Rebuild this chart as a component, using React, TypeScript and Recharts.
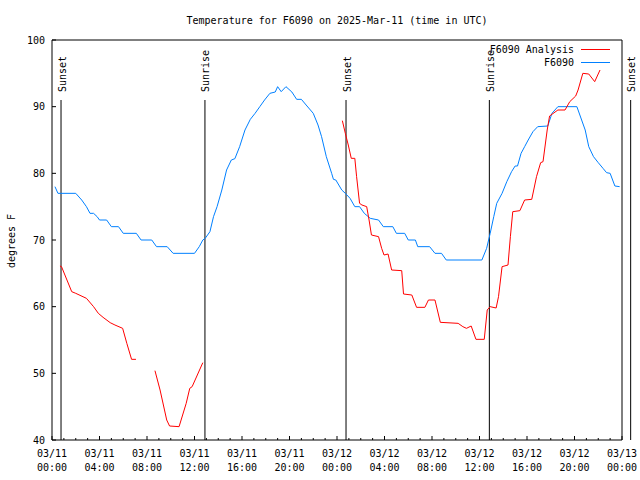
import * as React from "react";
import {
  LineChart,
  Line,
  XAxis,
  YAxis,
  ReferenceLine,
  ReferenceArea,
} from "recharts";

// observed temperature (F6090), hours since 03/11 00:00 UTC
const obsHours = [
  0.25, 0.5, 2.0, 2.5, 2.9, 3.2, 3.5, 3.8, 4.0, 4.6, 5.0, 5.6, 6.0, 7.1, 7.5,
  8.4, 8.8, 9.7, 10.2, 12.0, 12.4, 12.7, 12.9, 13.3, 13.6, 13.9, 14.3, 14.7,
  15.1, 15.4, 15.8, 16.25, 16.7, 17.1, 17.5, 17.9, 18.35, 18.8, 19.0, 19.3,
  19.7, 20.2, 20.6, 21.0, 21.4, 22.0, 22.4, 22.7, 23.1, 23.55, 23.7, 23.9,
  24.4, 24.7, 25.1, 25.5, 25.9, 26.3, 26.8, 27.5, 27.9, 28.7, 29.0, 29.7,
  30.0, 30.6, 30.8, 31.8, 32.25, 32.8, 33.2, 36.2, 36.6, 36.9, 37.2, 37.45,
  37.9, 38.3, 38.7, 39.0, 39.2, 39.5, 39.8, 40.1, 40.5, 40.9, 41.75, 42.1,
  42.6, 44.2, 44.6, 44.9, 45.2, 45.6, 46.0, 46.4, 46.7, 47.0, 47.4, 47.8,
];
const obsTemps = [
  78, 77, 77, 76, 75, 74, 74, 73.5, 73, 73, 72, 72, 71, 71, 70, 70, 69, 69,
  68, 68, 69, 70, 70.25, 71.25, 73.5, 75, 77.5, 80.5, 82, 82.2, 84, 86.5,
  88.1, 89, 90, 91, 92, 92.2, 93, 92.25, 93, 92.2, 91.1, 91.1, 90.25, 89,
  87.25, 85.5, 82.5, 80, 79.1, 79, 77.5, 77, 76.25, 75, 75, 74, 73.25, 73,
  72, 72, 71, 71, 70, 70, 69, 69, 68, 68, 67, 67, 68.75, 71, 73.5, 75.5, 77,
  78.75, 80.25, 81.1, 81.1, 83, 84, 85, 86.25, 87, 87.1, 89, 90, 90, 88,
  86.5, 84, 82.5, 81.6, 80.75, 80.1, 80, 78.1, 78,
];

// analysis temperature (F6090 Analysis), null = missing
const anaHours = [
  0.67, 0.8, 1.66, 2.0, 2.9, 3.5, 3.9, 4.3, 4.9, 5.3, 5.95, 6.3, 6.7, 7.07,
  7.8, 8.67, 9.1, 9.66, 9.9, 10.7, 11.3, 11.6, 11.8, 12.7, 18.0, 24.45, 24.7,
  24.95, 25.2, 25.5, 25.65, 25.9, 26.1, 26.5, 26.7, 26.9, 27.5, 27.76, 27.96,
  28.3, 28.6, 29.45, 29.6, 30.3, 30.7, 31.4, 31.7, 32.25, 32.7, 34.2, 34.6,
  34.9, 35.3, 35.7, 36.4, 36.65, 36.9, 37.4, 37.6, 37.9, 38.4, 38.6, 38.8,
  39.4, 39.8, 40.4, 40.8, 41.15, 41.35, 41.7, 41.9, 42.6, 43.2, 43.6, 44.1,
  44.3, 44.7, 45.2, 45.7, 46.15,
];
const anaTemps = [
  66.1, 66, 62.25, 62, 61.25, 60, 59, 58.4, 57.6, 57.25, 56.75, 54.5, 52.1,
  52.1, null, 50.4, 47.5, 43, 42.1, 42, 45.5, 47.75, 48, 51.6, null, 87.9,
  86, 84.25, 82.25, 82.25, 79.5, 75.5, 75.25, 75, 73, 70.75, 70.5, 68.75,
  67.75, 67.9, 65.5, 65.4, 61.9, 61.75, 59.9, 59.9, 61, 61, 57.65, 57.5, 57,
  56.75, 57.1, 55.1, 55.1, 59.5, 60, 59.8, 61.5, 66, 66.25, 70.5, 74.25,
  74.4, 76, 76.1, 79.5, 81.6, 81.75, 86.5, 88.6, 89.5, 89.5, 90.75, 91.6,
  92.5, 95, 94.9, 93.75, 95.5,
];

const sunHours = [0.76, 12.88, 24.76, 36.83, 48.73];
const sunLabels = ["Sunset", "Sunrise", "Sunset", "Sunrise", "Sunset"];

const dateLabels = ["03/11", "03/11", "03/11", "03/11", "03/11", "03/11", "03/12", "03/12", "03/12", "03/12", "03/12", "03/12", "03/13"];
const timeLabels = ["00:00", "04:00", "08:00", "12:00", "16:00", "20:00", "00:00", "04:00", "08:00", "12:00", "16:00", "20:00", "00:00"];
const yTicks = [40, 50, 60, 70, 80, 90, 100];

const obsData = obsHours.map((t, i) => ({ t, v: obsTemps[i] }));
const anaData = anaHours.map((t, i) => ({ t, v: anaTemps[i] }));
const hourTicks = Array.from({ length: 49 }, (_, i) => i);

const FONT = "'DejaVu Sans Mono', monospace";
const RED = "#ff0000";
const BLUE = "#0080ff";

const BottomTick = (props: any) => {
  const { x, y, payload } = props;
  const h = payload.value;
  const major = h % 4 === 0;
  const k = h / 4;
  return (
    <g>
      <line x1={x} x2={x} y1={y} y2={y - (major ? 4 : 2)} stroke="#000" />
      {major && (
        <text x={x} y={y} textAnchor="middle" fontFamily={FONT} fontSize={10} fill="#000">
          <tspan x={x} dy={17}>{dateLabels[k]}</tspan>
          <tspan x={x} dy={14}>{timeLabels[k]}</tspan>
        </text>
      )}
    </g>
  );
};

const TopTick = (props: any) => {
  const { x, y, payload } = props;
  const major = payload.value % 4 === 0;
  return <line x1={x} x2={x} y1={y} y2={y + (major ? 4 : 2)} stroke="#000" />;
};

const LeftTick = (props: any) => {
  const { x, y, payload } = props;
  return (
    <g>
      <line x1={x} x2={x + 4} y1={y} y2={y} stroke="#000" />
      <text x={x - 7} y={y + 3.5} textAnchor="end" fontFamily={FONT} fontSize={10} fill="#000">
        {payload.value}
      </text>
    </g>
  );
};

const RightTick = (props: any) => {
  const { x, y } = props;
  return <line x1={x} x2={x - 4} y1={y} y2={y} stroke="#000" />;
};

const sunLabel = (text: string) => (props: any) => {
  const vb = props.viewBox || {};
  const x = vb.x + 4.5;
  const y = vb.y - 8;
  return (
    <text
      transform={`translate(${x},${y}) rotate(-90)`}
      textAnchor="start"
      fontFamily={FONT}
      fontSize={10}
      fill="#000"
    >
      {text}
    </text>
  );
};

export default function App() {
  return (
    <div style={{ position: "relative", width: 640, height: 480, background: "#fff" }}>
      <style>{`body{margin:0}`}</style>
      <LineChart
        width={640}
        height={480}
        margin={{ top: 40, right: 18, bottom: 8, left: 8 }}
      >
        <XAxis
          dataKey="t"
          type="number"
          domain={[0, 48]}
          allowDataOverflow
          ticks={hourTicks}
          interval={0}
          height={32}
          tickSize={0}
          tickMargin={0}
          tickLine={false}
          axisLine={false}
          tick={<BottomTick />}
        />
        <XAxis
          xAxisId="top"
          orientation="top"
          dataKey="t"
          type="number"
          domain={[0, 48]}
          allowDataOverflow
          ticks={hourTicks}
          interval={0}
          height={0}
          tickSize={0}
          tickMargin={0}
          tickLine={false}
          axisLine={false}
          tick={<TopTick />}
        />
        <YAxis
          type="number"
          domain={[40, 100]}
          allowDataOverflow
          ticks={yTicks}
          interval={0}
          width={44}
          tickSize={0}
          tickMargin={0}
          tickLine={false}
          axisLine={false}
          tick={<LeftTick />}
        />
        <YAxis
          yAxisId="right"
          orientation="right"
          type="number"
          domain={[40, 100]}
          allowDataOverflow
          ticks={yTicks}
          interval={0}
          width={0}
          tickSize={0}
          tickMargin={0}
          tickLine={false}
          axisLine={false}
          tick={<RightTick />}
        />
        <ReferenceArea x1={0} x2={48} y1={40} y2={100} fill="none" stroke="#000" strokeWidth={1} />
        {sunHours.map((h, i) => (
          <ReferenceLine
            key={`sun-${i}`}
            segment={[
              { x: h, y: 91 },
              { x: h, y: 40 },
            ]}
            ifOverflow="visible"
            stroke="#000"
            strokeWidth={1}
            label={sunLabel(sunLabels[i])}
          />
        ))}
        <Line
          data={obsData}
          dataKey="v"
          name="F6090"
          stroke={BLUE}
          strokeWidth={1}
          dot={false}
          isAnimationActive={false}
        />
        <Line
          data={anaData}
          dataKey="v"
          name="F6090 Analysis"
          stroke={RED}
          strokeWidth={1}
          dot={false}
          isAnimationActive={false}
        />
      </LineChart>
      <svg
        width={640}
        height={480}
        style={{ position: "absolute", left: 0, top: 0, pointerEvents: "none" }}
      >
        <text x={337} y={24} textAnchor="middle" fontFamily={FONT} fontSize={10} fill="#000">
          Temperature for F6090 on 2025-Mar-11 (time in UTC)
        </text>
        <text
          transform="translate(15,241) rotate(-90)"
          textAnchor="middle"
          fontFamily={FONT}
          fontSize={10}
          fill="#000"
        >
          degrees F
        </text>
        <text x={574} y={53} textAnchor="end" fontFamily={FONT} fontSize={10} fill="#000">
          F6090 Analysis
        </text>
        <line x1={581} x2={610} y1={49.5} y2={49.5} stroke={RED} />
        <text x={574} y={66} textAnchor="end" fontFamily={FONT} fontSize={10} fill="#000">
          F6090
        </text>
        <line x1={581} x2={610} y1={62.5} y2={62.5} stroke={BLUE} />
      </svg>
    </div>
  );
}
